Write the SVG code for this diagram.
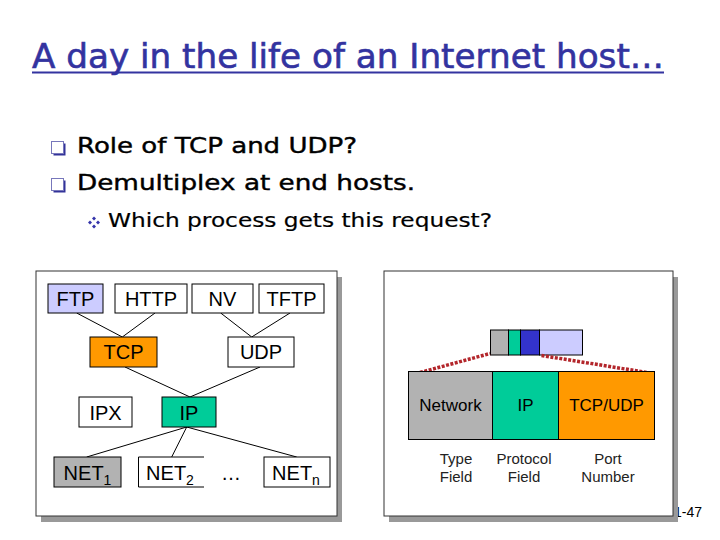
<svg xmlns="http://www.w3.org/2000/svg" width="720" height="540" viewBox="0 0 720 540">
<style>
.title{font-family:"DejaVu Sans","Liberation Sans",sans-serif;font-size:33px;fill:#3333a0;stroke:#3333a0;stroke-width:0.6}
.bul{font-family:"DejaVu Sans","Liberation Sans",sans-serif;fill:#000;stroke:#000;stroke-width:0.4}
.lbl{font-family:"Liberation Sans",Arial,sans-serif;font-size:20px;fill:#000;text-anchor:middle}
.sub{font-size:14px}
.fld{font-family:"Liberation Sans",Arial,sans-serif;font-size:17px;fill:#000;text-anchor:middle}
.cap{font-family:"Liberation Sans",Arial,sans-serif;font-size:15px;fill:#222;text-anchor:middle}
.box{stroke:#000;stroke-width:1}
.panel{fill:#fff;stroke:#333;stroke-width:1}
.shadow{fill:#999}
.conn line{stroke:#000;stroke-width:1}
.dots{stroke:#b3262b;stroke-width:3.5;stroke-dasharray:3 1.5;fill:none}
</style>
<defs>
<g id="sq"><rect x="2.5" y="2.5" width="12" height="12" fill="#333399"/><rect x="0.5" y="0.5" width="12" height="12" fill="#fff" stroke="#7777bb" stroke-width="1"/></g>
<g id="dia" fill="#3333aa"><path d="M0,-6 L2,-4 L0,-2 L-2,-4Z"/><path d="M0,2 L2,4 L0,6 L-2,4Z"/><path d="M-6,0 L-4,-2 L-2,0 L-4,2Z"/><path d="M2,0 L4,-2 L6,0 L4,2Z"/></g>
</defs>
<rect width="720" height="540" fill="#fff"/>
<g id="title">
<text class="title" x="32" y="68" textLength="632" lengthAdjust="spacingAndGlyphs">A day in the life of an Internet host…</text>
<line x1="32" y1="72.5" x2="664" y2="72.5" stroke="#3333a0" stroke-width="2"/>
</g>
<g id="bullets">
<use href="#sq" x="51" y="141"/>
<text class="bul" x="77" y="153" font-size="21" textLength="280" lengthAdjust="spacingAndGlyphs">Role of TCP and UDP?</text>
<use href="#sq" x="51" y="178"/>
<text class="bul" x="77" y="190" font-size="21" textLength="338" lengthAdjust="spacingAndGlyphs">Demultiplex at end hosts.</text>
<use href="#dia" x="94" y="222.5"/>
<text class="bul" x="108" y="227" font-size="19" textLength="384" lengthAdjust="spacingAndGlyphs" style="stroke-width:0.2">Which process gets this request?</text>
</g>
<text id="pagenum" x="674" y="517" font-family="Liberation Sans, Arial, sans-serif" font-size="14" fill="#000">1-47</text>
<g id="left-panel">
<rect class="shadow" x="41" y="277" width="301" height="245"/>
<rect class="panel" x="36" y="271" width="301" height="245"/>
</g>
<g id="right-panel">
<rect class="shadow" x="389" y="277" width="289" height="245"/>
<rect class="panel" x="384" y="271" width="289" height="245"/>
</g>
<g id="connectors" class="conn">
<line x1="76.7" y1="313" x2="122.3" y2="337"/>
<line x1="155" y1="313" x2="122.3" y2="337"/>
<line x1="220.7" y1="313" x2="251.7" y2="337"/>
<line x1="290" y1="313" x2="251.7" y2="337"/>
<line x1="125" y1="367" x2="190" y2="397"/>
<line x1="260" y1="367" x2="190" y2="397"/>
<line x1="186.7" y1="427" x2="86.7" y2="457"/>
<line x1="186.7" y1="427" x2="171.7" y2="457"/>
<line x1="186.7" y1="427" x2="296.7" y2="457"/>
</g>
<g id="FTP"><rect class="box" x="48" y="284" width="55" height="29" fill="#ccccff"/><text class="lbl" x="75.5" y="305.5">FTP</text></g>
<g id="HTTP"><rect class="box" x="115" y="284" width="72" height="29" fill="#fff"/><text class="lbl" x="151" y="305.5">HTTP</text></g>
<g id="NV"><rect class="box" x="192" y="284" width="61" height="29" fill="#fff"/><text class="lbl" x="222.5" y="305.5">NV</text></g>
<g id="TFTP"><rect class="box" x="259" y="284" width="65" height="29" fill="#fff"/><text class="lbl" x="291.5" y="305.5">TFTP</text></g>
<g id="TCP"><rect class="box" x="90" y="337" width="67" height="30" fill="#ff9900"/><text class="lbl" x="123.5" y="359.3">TCP</text></g>
<g id="UDP"><rect class="box" x="228" y="337" width="66" height="30" fill="#fff"/><text class="lbl" x="261" y="359.3">UDP</text></g>
<g id="IPX"><rect class="box" x="79" y="397" width="53" height="30" fill="#fff"/><text class="lbl" x="105.5" y="419.5">IPX</text></g>
<g id="IP"><rect class="box" x="162" y="397" width="54" height="30" fill="#00cc99"/><text class="lbl" x="189" y="419.5">IP</text></g>
<g id="NET1"><rect class="box" x="54" y="457" width="67" height="30" fill="#b2b2b2"/><text class="lbl" x="87.5" y="480">NET<tspan class="sub" dy="5">1</tspan></text></g>
<g id="NET2"><path class="box" d="M204,457 H138.5 V487 H204" fill="#fff"/><text class="lbl" x="170" y="480">NET<tspan class="sub" dy="5">2</tspan></text></g>
<g id="dots"><text class="lbl" x="231" y="480">…</text></g>
<g id="NETn"><rect class="box" x="264" y="457" width="66" height="30" fill="#fff"/><text class="lbl" x="296" y="480">NET<tspan class="sub" dy="5">n</tspan></text></g>
<g id="small-header">
<rect class="box" x="490.5" y="330" width="18" height="25" fill="#b2b2b2"/>
<rect class="box" x="508.5" y="330" width="12" height="25" fill="#00cc99"/>
<rect class="box" x="520.5" y="330" width="19" height="25" fill="#3333cc"/>
<rect class="box" x="539.5" y="330" width="43" height="25" fill="#ccccff"/>
</g>
<g id="zoom-lines">
<line class="dots" x1="420" y1="372.5" x2="490" y2="353.5"/>
<line class="dots" x1="541.5" y1="355.5" x2="647" y2="372.5"/>
</g>
<g id="Network"><rect class="box" x="408.5" y="371.5" width="84" height="68" fill="#b2b2b2"/><text class="fld" x="450.5" y="410.5">Network</text></g>
<g id="IPfield"><rect class="box" x="492.5" y="371.5" width="66" height="68" fill="#00cc99"/><text class="fld" x="525.5" y="410.5">IP</text></g>
<g id="TCPUDP"><rect class="box" x="558.5" y="371.5" width="96" height="68" fill="#ff9900"/><text class="fld" x="606.5" y="410.5">TCP/UDP</text></g>
<g id="captions">
<text class="cap" x="456" y="464">Type</text><text class="cap" x="456" y="481.5">Field</text>
<text class="cap" x="524" y="464">Protocol</text><text class="cap" x="524" y="481.5">Field</text>
<text class="cap" x="608" y="464">Port</text><text class="cap" x="608" y="481.5">Number</text>
</g>
</svg>
